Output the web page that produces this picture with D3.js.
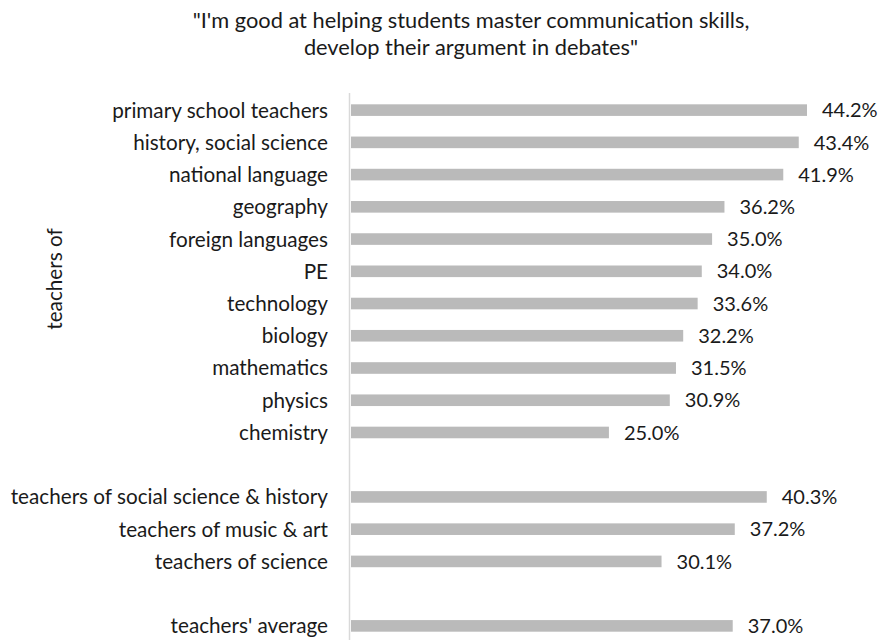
<!DOCTYPE html>
<html>
<head>
<meta charset="utf-8">
<script src="https://cdn.jsdelivr.net/npm/d3@7"></script>
<style>
  html, body { margin: 0; padding: 0; background: #fff; }
  svg { display: block; }
  text { font-family: Lato, "Open Sans", sans-serif; fill: #1a1a1a; }
</style>
</head>
<body>
<svg id="chart" width="882" height="640"></svg>
<script>
// Data
const titleLines = ['"I\'m good at helping students master communication skills,', 'develop their argument in debates"'];
const axisTitle = "teachers of";
const categories = [
  "primary school teachers", "history, social science", "national language", "geography",
  "foreign languages", "PE", "technology", "biology", "mathematics", "physics", "chemistry",
  "",
  "teachers of social science & history", "teachers of music & art", "teachers of science",
  " ",
  "teachers' average"
];
const values = [44.2, 43.4, 41.9, 36.2, 35.0, 34.0, 33.6, 32.2, 31.5, 30.9, 25.0, null, 40.3, 37.2, 30.1, null, 37.0];

const svg = d3.select("#chart");
const x0 = 351;
const x = d3.scaleLinear().domain([0, 44.2]).range([x0, 807]);
const y = d3.scaleBand().domain(categories).range([94, 642]).paddingInner(0.64).paddingOuter(0.32);

const data = categories.map((c, i) => ({ c, v: values[i] }));
const shown = data.filter(d => d.v !== null);

// title
svg.append("text")
  .attr("x", 471).attr("text-anchor", "middle")
  .style("font-size", "21.8px")
  .selectAll("tspan").data(titleLines).join("tspan")
  .attr("x", 471).attr("y", (d, i) => 28 + i * 27).text(d => d);

// vertical axis line
svg.append("line").attr("x1", 349.5).attr("x2", 349.5).attr("y1", 93).attr("y2", 640)
  .attr("stroke", "#d9d9d9").attr("stroke-width", 1.5);

// category labels
svg.append("g").selectAll("text").data(shown).join("text")
  .attr("x", 328).attr("y", d => y(d.c) + y.bandwidth() / 2)
  .attr("dy", "0.36em").attr("text-anchor", "end")
  .style("font-size", "20.7px").text(d => d.c.trim());

// bars
svg.append("g").selectAll("rect").data(shown).join("rect")
  .attr("x", x(0)).attr("y", d => y(d.c))
  .attr("width", d => x(d.v) - x(0)).attr("height", y.bandwidth())
  .attr("fill", "#bababa");

// value labels
svg.append("g").selectAll("text").data(shown).join("text")
  .attr("x", d => x(d.v) + 15).attr("y", d => y(d.c) + y.bandwidth() / 2)
  .attr("dy", "0.36em")
  .style("font-size", "20px").text(d => d.v.toFixed(1) + "%");

// axis title
svg.append("text")
  .attr("transform", "translate(55,279) rotate(-90)")
  .attr("text-anchor", "middle").attr("dy", "0.36em")
  .style("font-size", "20.7px").text(axisTitle);
</script>
</body>
</html>
